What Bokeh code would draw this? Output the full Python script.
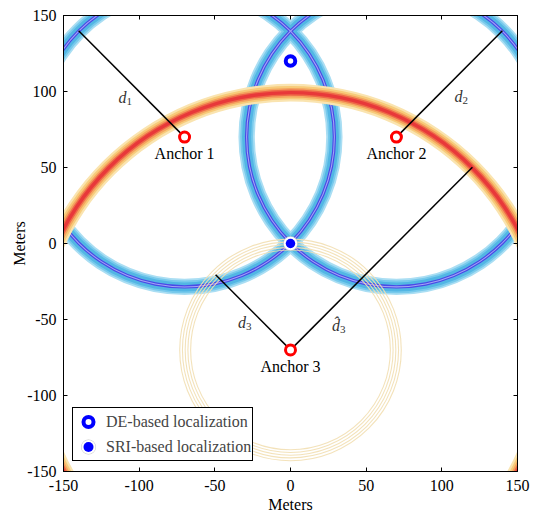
import numpy as np
from bokeh.plotting import figure
from bokeh.models import (LinearAxis, FixedTicker, Legend, LegendItem, CustomJSTickFormatter)
from bokeh.core.properties import value
from bokeh.embed import file_html
from bokeh.resources import INLINE

# ---------------- data ----------------
anchor_x = [-70, 70, 0]
anchor_y = [70, 70, -70]
anchor_names = ["Anchor 1", "Anchor 2", "Anchor 3"]

# true ranges (blue rings around anchors 1 and 2)
blue_ring_anchor = [0, 1]
blue_ring_radius = [99, 99]
# biased range estimate of anchor 3 (red ring)
red_ring_anchor = 2
red_ring_radius = 170
# true range of anchor 3 (thin rings)
thin_ring_radii = [66, 67.8, 69.6, 71.4, 73.2]

# distance segments: anchor index, length, direction (deg)
seg_anchor = [0, 1, 2, 2]
seg_length = [99, 99, 70, 170]
seg_angle = [135, 45, 135, 45]
seg_labels = ["d", "d", "d", "d\u0302"]
seg_subs = ["1", "2", "3", "3"]
seg_label_x = [-111, 111, -32, 30]
seg_label_y = [96, 97, -52, -54]

de_x, de_y = [0], [120]
sri_x, sri_y = [0], [0]

ticks = [-150, -100, -50, 0, 50, 100, 150]
tick_labels = ["-150", "-100", "-50", "0", "50", "100", "150"]

SERIF = "Liberation Serif"
FS = "16px"

p = figure(width=536, height=516, x_range=(-150, 150), y_range=(-150, 150),
           output_backend="svg", toolbar_location=None,
           min_border_left=63, min_border_right=19, min_border_top=15, min_border_bottom=45,
           x_axis_label="Meters", y_axis_label="Meters")
p.grid.visible = False
p.outline_line_color = "black"
p.outline_line_alpha = 1
p.outline_line_width = 1
p.background_fill_color = "white"
p.border_fill_color = "white"

# ---------------- rings ----------------
blue_layers = [(5.4, "#aadef3"), (4.2, "#78caec"), (3.0, "#52b6e4"), (1.1, "#4a4ae6"), (0.35, "#a4a4f4")]
red_layers = [(5.8, "#fae4b0"), (4.4, "#f7cb7a"), (3.1, "#f4a45f"), (2.0, "#ee6848"), (1.1, "#e8383a")]

bx = [anchor_x[i] for i in blue_ring_anchor]
by = [anchor_y[i] for i in blue_ring_anchor]
br = np.array(blue_ring_radius, dtype=float)
for hw, col in blue_layers:
    p.annulus(x=bx, y=by, inner_radius=br - hw, outer_radius=br + hw,
              fill_color=col, line_color=None)

rx, ry = anchor_x[red_ring_anchor], anchor_y[red_ring_anchor]
for hw, col in red_layers:
    p.annulus(x=[rx], y=[ry], inner_radius=red_ring_radius - hw, outer_radius=red_ring_radius + hw,
              fill_color=col, line_color=None)

n = len(thin_ring_radii)
p.circle(x=[rx] * n, y=[ry] * n, radius=thin_ring_radii, fill_color=None,
         line_color="#f2dfb2", line_width=1.1, line_alpha=0.9)

# ---------------- segments ----------------
sx0 = [anchor_x[i] for i in seg_anchor]
sy0 = [anchor_y[i] for i in seg_anchor]
ang = np.radians(seg_angle)
sx1 = np.array(sx0) + np.array(seg_length) * np.cos(ang)
sy1 = np.array(sy0) + np.array(seg_length) * np.sin(ang)
p.segment(x0=sx0, y0=sy0, x1=sx1, y1=sy1, line_color="black", line_width=1.5)

p.text(x=seg_label_x, y=seg_label_y, text=seg_labels, text_font=value(SERIF),
       text_font_style="italic", text_font_size="16px", text_color="#333333",
       text_align="right", text_baseline="middle", x_offset=4)
p.text(x=seg_label_x, y=seg_label_y, text=seg_subs, text_font=value(SERIF),
       text_font_size="11px", text_color="#333333",
       text_align="left", text_baseline="middle", x_offset=4, y_offset=4)

# ---------------- markers ----------------
p.scatter(x=anchor_x, y=anchor_y, size=10, fill_color="white", line_color="#ff0000", line_width=3)
p.text(x=anchor_x, y=anchor_y, text=anchor_names, text_font=value(SERIF), text_font_size=FS,
       text_color="black", text_align="center", text_baseline="top", y_offset=8)

de_r = p.scatter(x=de_x, y=de_y, size=9.5, fill_color="white", line_color="#0000ff", line_width=4)
sri_gray = p.scatter(x=sri_x, y=sri_y, size=9.5, fill_color=None, line_color="#c8c8c8", line_width=5)
sri_white = p.scatter(x=sri_x, y=sri_y, size=9.5, fill_color=None, line_color="white", line_width=4)
sri_r = p.scatter(x=sri_x, y=sri_y, size=9.5, fill_color="#0000ff", line_color=None)

legend = Legend(items=[LegendItem(label="DE-based localization", renderers=[de_r]),
                       LegendItem(label="SRI-based localization", renderers=[sri_gray, sri_white, sri_r])],
                location=(9, 10), border_line_color="black", border_line_width=1, border_line_alpha=1,
                background_fill_alpha=1, padding=1, spacing=0, margin=0,
                label_text_font=SERIF, label_text_font_size=FS, label_standoff=4,
                glyph_width=28, glyph_height=25, label_height=25)
p.add_layout(legend)

# ---------------- axes ----------------
overrides = {t: l for t, l in zip(ticks, tick_labels)}
for ax in (p.xaxis[0], p.yaxis[0]):
    ax.ticker = FixedTicker(ticks=ticks)
    ax.major_label_overrides = overrides
    ax.major_tick_in = 4
    ax.major_tick_out = 0
    ax.minor_tick_line_color = None
    ax.major_label_text_font = SERIF
    ax.major_label_text_font_size = FS
    ax.major_label_text_color = "black"
    ax.axis_label_text_font = SERIF
    ax.axis_label_text_font_size = FS
    ax.axis_label_text_font_style = "normal"
    ax.axis_label_text_color = "black"
    ax.axis_line_color = "black"
    ax.major_tick_line_color = "black"
p.xaxis[0].major_label_standoff = 8
p.xaxis[0].axis_label_standoff = 2
p.yaxis[0].major_label_standoff = 7
p.yaxis[0].axis_label_standoff = -4

for loc in ("above", "right"):
    ax = LinearAxis(ticker=FixedTicker(ticks=ticks), major_tick_in=4, major_tick_out=0,
                    minor_tick_line_color=None,
                    formatter=CustomJSTickFormatter(code="return ''"),
                    major_label_standoff=0, axis_line_color="black")
    p.add_layout(ax, loc)

open("out.html", "w").write(file_html(p, INLINE))
